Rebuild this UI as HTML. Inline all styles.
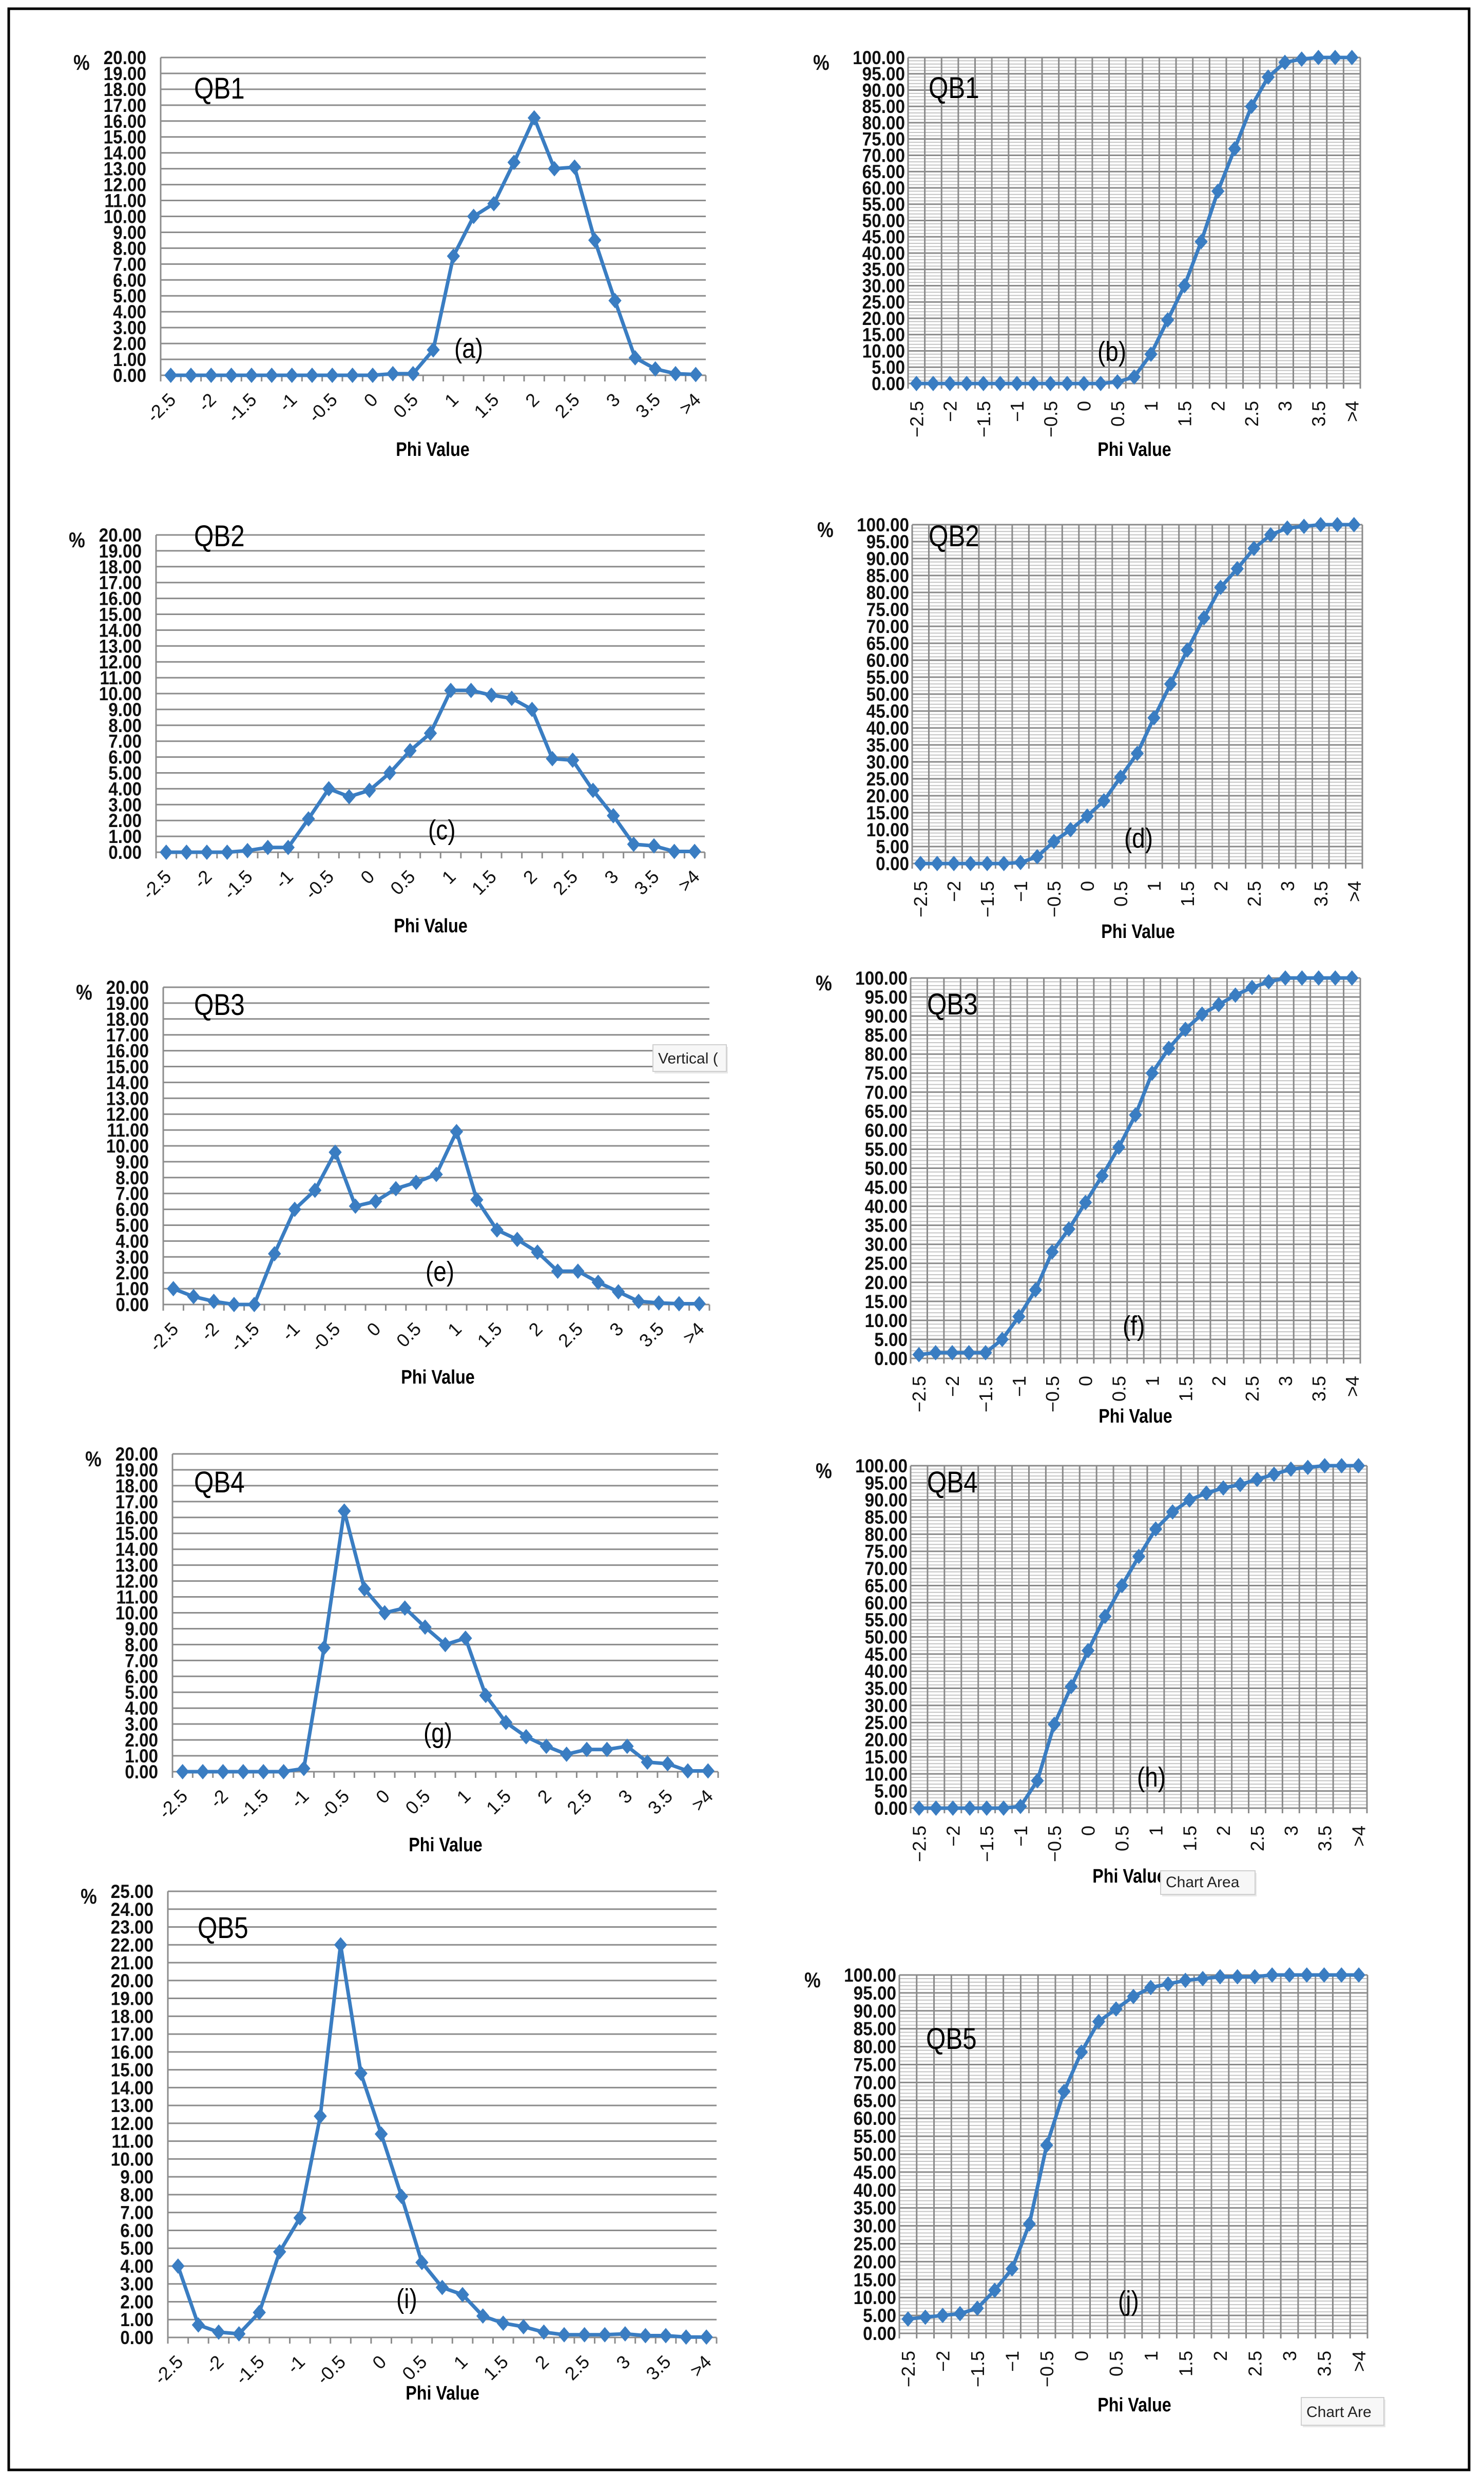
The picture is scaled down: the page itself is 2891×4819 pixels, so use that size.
<!DOCTYPE html>
<html><head><meta charset="utf-8"><style>
html,body{margin:0;padding:0;background:#fff}
svg{display:block}
text{font-family:"Liberation Sans",sans-serif}
</style></head><body>
<svg id="fig" width="2891" height="4819" viewBox="0 0 2891 4819" xmlns="http://www.w3.org/2000/svg">
<rect x="17" y="17" width="2845" height="4794" fill="#fff" stroke="#000" stroke-width="5"/>
</svg>
<script>
const categories = ["-2.5","-2.25","-2","-1.75","-1.5","-1.25","-1","-0.75","-0.5","-0.25","0","0.25","0.5","0.75","1","1.25","1.5","1.75","2","2.25","2.5","2.75","3","3.25","3.5","3.75",">4"];
const tickLabels = ["-2.5","-2","-1.5","-1","-0.5","0","0.5","1","1.5","2","2.5","3","3.5",">4"];
const qb1Freq = [0,0,0,0,0,0,0,0,0,0,0,0.1,0.1,1.6,7.5,10.0,10.8,13.4,16.2,13.0,13.1,8.5,4.7,1.1,0.4,0.1,0.05];
const qb1Cum  = [0,0,0,0,0,0,0,0,0,0,0,0,0.5,2,9,19.5,30,43.5,59,72,85,94,98.5,99.5,100,100,100];
const qb2Freq = [0,0,0,0,0.1,0.3,0.3,2.1,4.0,3.5,3.9,5.0,6.4,7.5,10.2,10.2,9.9,9.7,9.0,5.9,5.8,3.9,2.3,0.5,0.4,0.05,0.05];
const qb2Cum  = [0,0,0,0,0,0,0.3,2,6.5,10,14,18.5,25.5,32.5,43,53,63,72.5,81.5,87,93,97,99,99.5,100,100,100];
const qb3Freq = [1.0,0.5,0.2,0,0,3.2,6.0,7.2,9.6,6.2,6.5,7.3,7.7,8.2,10.9,6.6,4.7,4.1,3.3,2.1,2.1,1.4,0.8,0.2,0.1,0.05,0.05];
const qb3Cum  = [1,1.5,1.5,1.5,1.5,5,11,18,28,34,41,48,55.5,64,75,81.5,86.5,90.5,93,95.5,97.5,99,100,100,100,100,100];
const qb4Freq = [0,0,0,0,0,0,0.2,7.8,16.4,11.5,10.0,10.3,9.1,8.0,8.4,4.8,3.1,2.2,1.6,1.1,1.4,1.4,1.6,0.6,0.5,0.05,0.05];
const qb4Cum  = [0,0,0,0,0,0,0.5,8,24.5,35.5,46,56,65,73.5,81.5,86.5,90,92,93.5,94.5,96,97.5,99,99.5,100,100,100];
const qb5Freq = [4.0,0.7,0.3,0.2,1.4,4.8,6.7,12.4,22.0,14.8,11.4,7.9,4.2,2.8,2.4,1.2,0.8,0.6,0.3,0.15,0.15,0.15,0.2,0.1,0.1,0.02,0.02];
const qb5Cum  = [4,4.5,5,5.5,7,12,18,30.5,52.5,67.5,78.5,87,90.5,94,96.5,97.5,98.5,99,99.5,99.5,99.5,100,100,100,100,100,100];

const NS = "http://www.w3.org/2000/svg";
const svg = document.getElementById("fig");
const BLUE = "#3a7dc2";
function mk(tag, attrs, parent){ const e=document.createElementNS(NS,tag); for(const k in attrs) e.setAttribute(k,attrs[k]); (parent||svg).appendChild(e); return e; }
function txt(s, attrs, parent){ const e=mk("text",attrs,parent); e.textContent=s; return e; }
function sx(x, s){ return `translate(${x},0) scale(${s},1) translate(${-x},0)`; }

const charts = [
 {id:"a",title:"QB1",data:qb1Freq,cum:false,x0:313,x1:1375,yT:112,yZ:731,max:20,tx:378,ty:192,lx:885,ly:697,px:843,py:888},
 {id:"b",title:"QB1",data:qb1Cum,cum:true,x0:1769,x1:2650,yT:112,yZ:747,max:100,tx:1809,ty:191,lx:2138,ly:703,px:2210,py:888},
 {id:"c",title:"QB2",data:qb2Freq,cum:false,x0:304,x1:1373,yT:1042,yZ:1660,max:20,tx:378,ty:1064,lx:834,ly:1635,px:839,py:1816},
 {id:"d",title:"QB2",data:qb2Cum,cum:true,x0:1777,x1:2654,yT:1022,yZ:1682,max:100,tx:1809,ty:1064,lx:2190,ly:1651,px:2217,py:1827},
 {id:"e",title:"QB3",data:qb3Freq,cum:false,x0:318,x1:1382,yT:1923,yZ:2541,max:20,tx:378,ty:1977,lx:829,ly:2495,px:853,py:2695},
 {id:"f",title:"QB3",data:qb3Cum,cum:true,x0:1774,x1:2650,yT:1905,yZ:2646,max:100,tx:1806,ty:1976,lx:2187,ly:2601,px:2212,py:2771},
 {id:"g",title:"QB4",data:qb4Freq,cum:false,x0:336,x1:1399,yT:2832,yZ:3451,max:20,tx:378,ty:2907,lx:825,ly:3394,px:868,py:3606},
 {id:"h",title:"QB4",data:qb4Cum,cum:true,x0:1774,x1:2663,yT:2855,yZ:3522,max:100,tx:1806,ty:2907,lx:2215,ly:3480,px:2200,py:3667},
 {id:"i",title:"QB5",data:qb5Freq,cum:false,x0:327,x1:1396,yT:3684,yZ:4553,max:25,tx:385,ty:3775,lx:772,ly:4496,px:862,py:4674},
 {id:"j",title:"QB5",data:qb5Cum,cum:true,x0:1752,x1:2664,yT:3847,yZ:4545,max:100,tx:1804,ty:3991,lx:2178,ly:4500,px:2210,py:4697}
];

charts.forEach(c=>{
  const g = mk("g",{});
  
  
  const n = categories.length;
  const bw = (c.x1-c.x0)/n;
  const xs = i => c.x0 + bw*(i+0.5);
  const ys = v => c.yZ - (v/c.max)*(c.yZ-c.yT);
  const grid = mk("g",{},g);
  
  
  if(c.cum){
    for(let v=0; v<=c.max; v+=1){
      if(v%5===0) continue;
      mk("line",{x1:c.x0,x2:c.x1,y1:ys(v),y2:ys(v),stroke:"#c4c4c4","stroke-width":2},grid);
    }
    for(let k=0;k<=n;k++){
      const x=c.x0+bw*k;
      mk("line",{x1:x,x2:x,y1:c.yT,y2:c.yZ+10,stroke:"#8a8a8a","stroke-width":3},grid);
    }
    for(let v=5; v<=c.max; v+=5){
      mk("line",{x1:c.x0,x2:c.x1,y1:ys(v),y2:ys(v),stroke:"#8a8a8a","stroke-width":3},grid);
    }
  } else {
    for(let v=1; v<=c.max; v+=1){
      mk("line",{x1:c.x0,x2:c.x1,y1:ys(v),y2:ys(v),stroke:"#8c8c8c","stroke-width":3},grid);
    }
    for(let k=0;k<=n;k++){
      const x=c.x0+bw*k;
      mk("line",{x1:x,x2:x,y1:c.yZ,y2:c.yZ+12,stroke:"#8c8c8c","stroke-width":3},grid);
    }
    mk("line",{x1:c.x0,x2:c.x0,y1:c.yT,y2:c.yZ,stroke:"#8c8c8c","stroke-width":3},grid);
  }
  mk("line",{x1:c.x0,x2:c.x1,y1:c.yZ,y2:c.yZ,stroke:"#8c8c8c","stroke-width":3},grid);

  const step = c.cum?5:1;
  const gap = c.cum?6:28;
  const ax0 = c.x0-gap;
  for(let v=0; v<=c.max; v+=step){
    const t = txt(v.toFixed(2),{x:ax0,y:ys(v)+13,"text-anchor":"end","font-size":37,"font-weight":"bold",fill:"#111",transform:sx(ax0,0.9)},g);
    
    
  }
  const pxp = c.cum ? c.x0-185 : c.x0-170;
  const pct = txt("%",{x:pxp,y:c.yT+24,"font-size":42,"font-weight":"bold",fill:"#111",transform:sx(pxp,0.85)},g);
  
  

  for(let k=0;k<tickLabels.length;k++){
    const x = xs(k*2);
    let t;
    if(c.cum){
      const ax=x+13, ay=c.yZ+34;
      t = txt(tickLabels[k].replace("-","\u2212"),{x:ax,y:ay,"text-anchor":"end","font-size":36,fill:"#111",transform:`rotate(-90 ${ax} ${ay})`},g);
    } else {
      const ax=x+12, ay=c.yZ+50;
      t = txt(tickLabels[k],{x:ax,y:ay,"text-anchor":"end","font-size":36,fill:"#111",transform:`rotate(-45 ${ax} ${ay})`},g);
    }
    
    
  }

  const pts = c.data.map((v,i)=>xs(i).toFixed(1)+","+ys(v).toFixed(1)).join(" ");
  const line = mk("polyline",{points:pts,fill:"none",stroke:BLUE,"stroke-width":7,"stroke-linejoin":"round"},g);
  
  
  c.data.forEach((v,i)=>{
    const x=xs(i), y=ys(v), r=15;
    const m = mk("polygon",{points:`${x},${y-r} ${x+r*0.85},${y} ${x},${y+r} ${x-r*0.85},${y}`,fill:BLUE},g);
    
    
  });

  const tt = txt(c.title,{x:c.tx,y:c.ty,"font-size":58,fill:"#000",transform:sx(c.tx,0.85)},g);
  
  
  const lt = txt("("+c.id+")",{x:c.lx,y:c.ly,"font-size":54,fill:"#000",transform:sx(c.lx,0.85)},g);
  
  
  const xt = txt("Phi Value",{x:c.px,y:c.py,"text-anchor":"middle","font-size":38,"font-weight":"bold",fill:"#000",transform:sx(c.px,0.85)},g);
  
  
});

function tooltip(label, x, y, w, h, name){
  const g = mk("g",{});
  
  
  mk("rect",{x:x+3,y:y+4,width:w,height:h,fill:"#d8d8d8",opacity:0.6},g);
  mk("rect",{x:x,y:y,width:w,height:h,fill:"#f7f7f7",stroke:"#cfcfcf","stroke-width":2},g);
  txt(label,{x:x+10,y:y+h*0.7,"font-size":30,fill:"#222"},g);
}
tooltip("Vertical (",1272,2035,143,52,"tooltip-vertical-axis");
tooltip("Chart Area",2261,3644,184,46,"tooltip-chart-area");
tooltip("Chart Are",2535,4670,161,54,"tooltip-chart-area-2");
</script>
</body></html>
